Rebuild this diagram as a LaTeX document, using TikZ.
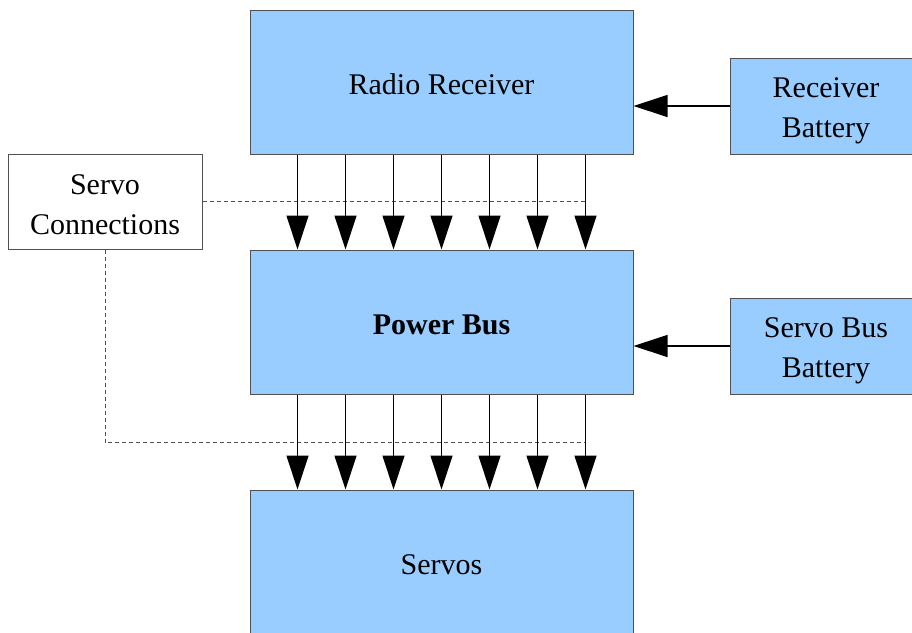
\documentclass[tikz,border=0pt]{standalone}
\usepackage{fontspec}
\setmainfont{Liberation Serif}
\usetikzlibrary{arrows.meta}

\definecolor{boxblue}{HTML}{99CCFF}
\definecolor{boxedge}{HTML}{505050}

% taller first line, pushes the label a little lower in its box
\newcommand{\upstrut}[1]{\rule{0pt}{#1}}

\tikzset{
  block/.style={draw=boxedge, line width=1pt, fill=boxblue, inner sep=0pt,
    align=center, font=\fontsize{30}{40}\selectfont},
  bigblock/.style={block, minimum width=383pt, minimum height=144pt},
  batt/.style={block, minimum width=192pt, minimum height=96pt},
  flow/.style={line width=1.2pt, -{Triangle[length=34pt,width=22pt]}},
  link/.style={draw=boxedge, line width=0.9pt, dash pattern=on 4pt off 3pt}
}

\begin{document}
\begin{tikzpicture}[x=1pt,y=-1pt]
\clip (0,0) rectangle (912,632);

\node[bigblock] (radio) at (441.5,82) {\upstrut{25pt}Radio Receiver};
\node[bigblock] (bus) at (441.5,322) {\upstrut{25pt}\textbf{Power Bus}};
\node[bigblock] (servos) at (441.5,562) {\upstrut{25pt}Servos};

\node[batt] (rxbat) at (826,106) {\upstrut{30pt}Receiver\\Battery};
\node[batt] (busbat) at (826,346) {\upstrut{30pt}Servo Bus\\Battery};

\node[block, fill=white, minimum width=194pt, minimum height=95pt] (conn) at (105,201.5) {\upstrut{27pt}Servo\\Connections};

% dashed links first so the arrows sit on top
\coordinate (c1) at ([xshift=336pt]radio.south west);
\coordinate (c2) at ([xshift=336pt,yshift=-48pt]bus.south west);
\draw[link] (conn.east) -- (conn.east -| c1);
\draw[link] (conn.south) |- (c2);

% seven channels receiver -> bus -> servos
\foreach \i in {1,...,7} {
  \draw[flow] ([xshift=\i*48pt]radio.south west) -- ([xshift=\i*48pt]bus.north west);
  \draw[flow] ([xshift=\i*48pt]bus.south west) -- ([xshift=\i*48pt]servos.north west);
}

\draw[flow] (rxbat.west) -- (rxbat.west -| radio.east);
\draw[flow] (busbat.west) -- (busbat.west -| bus.east);
\end{tikzpicture}
\end{document}
